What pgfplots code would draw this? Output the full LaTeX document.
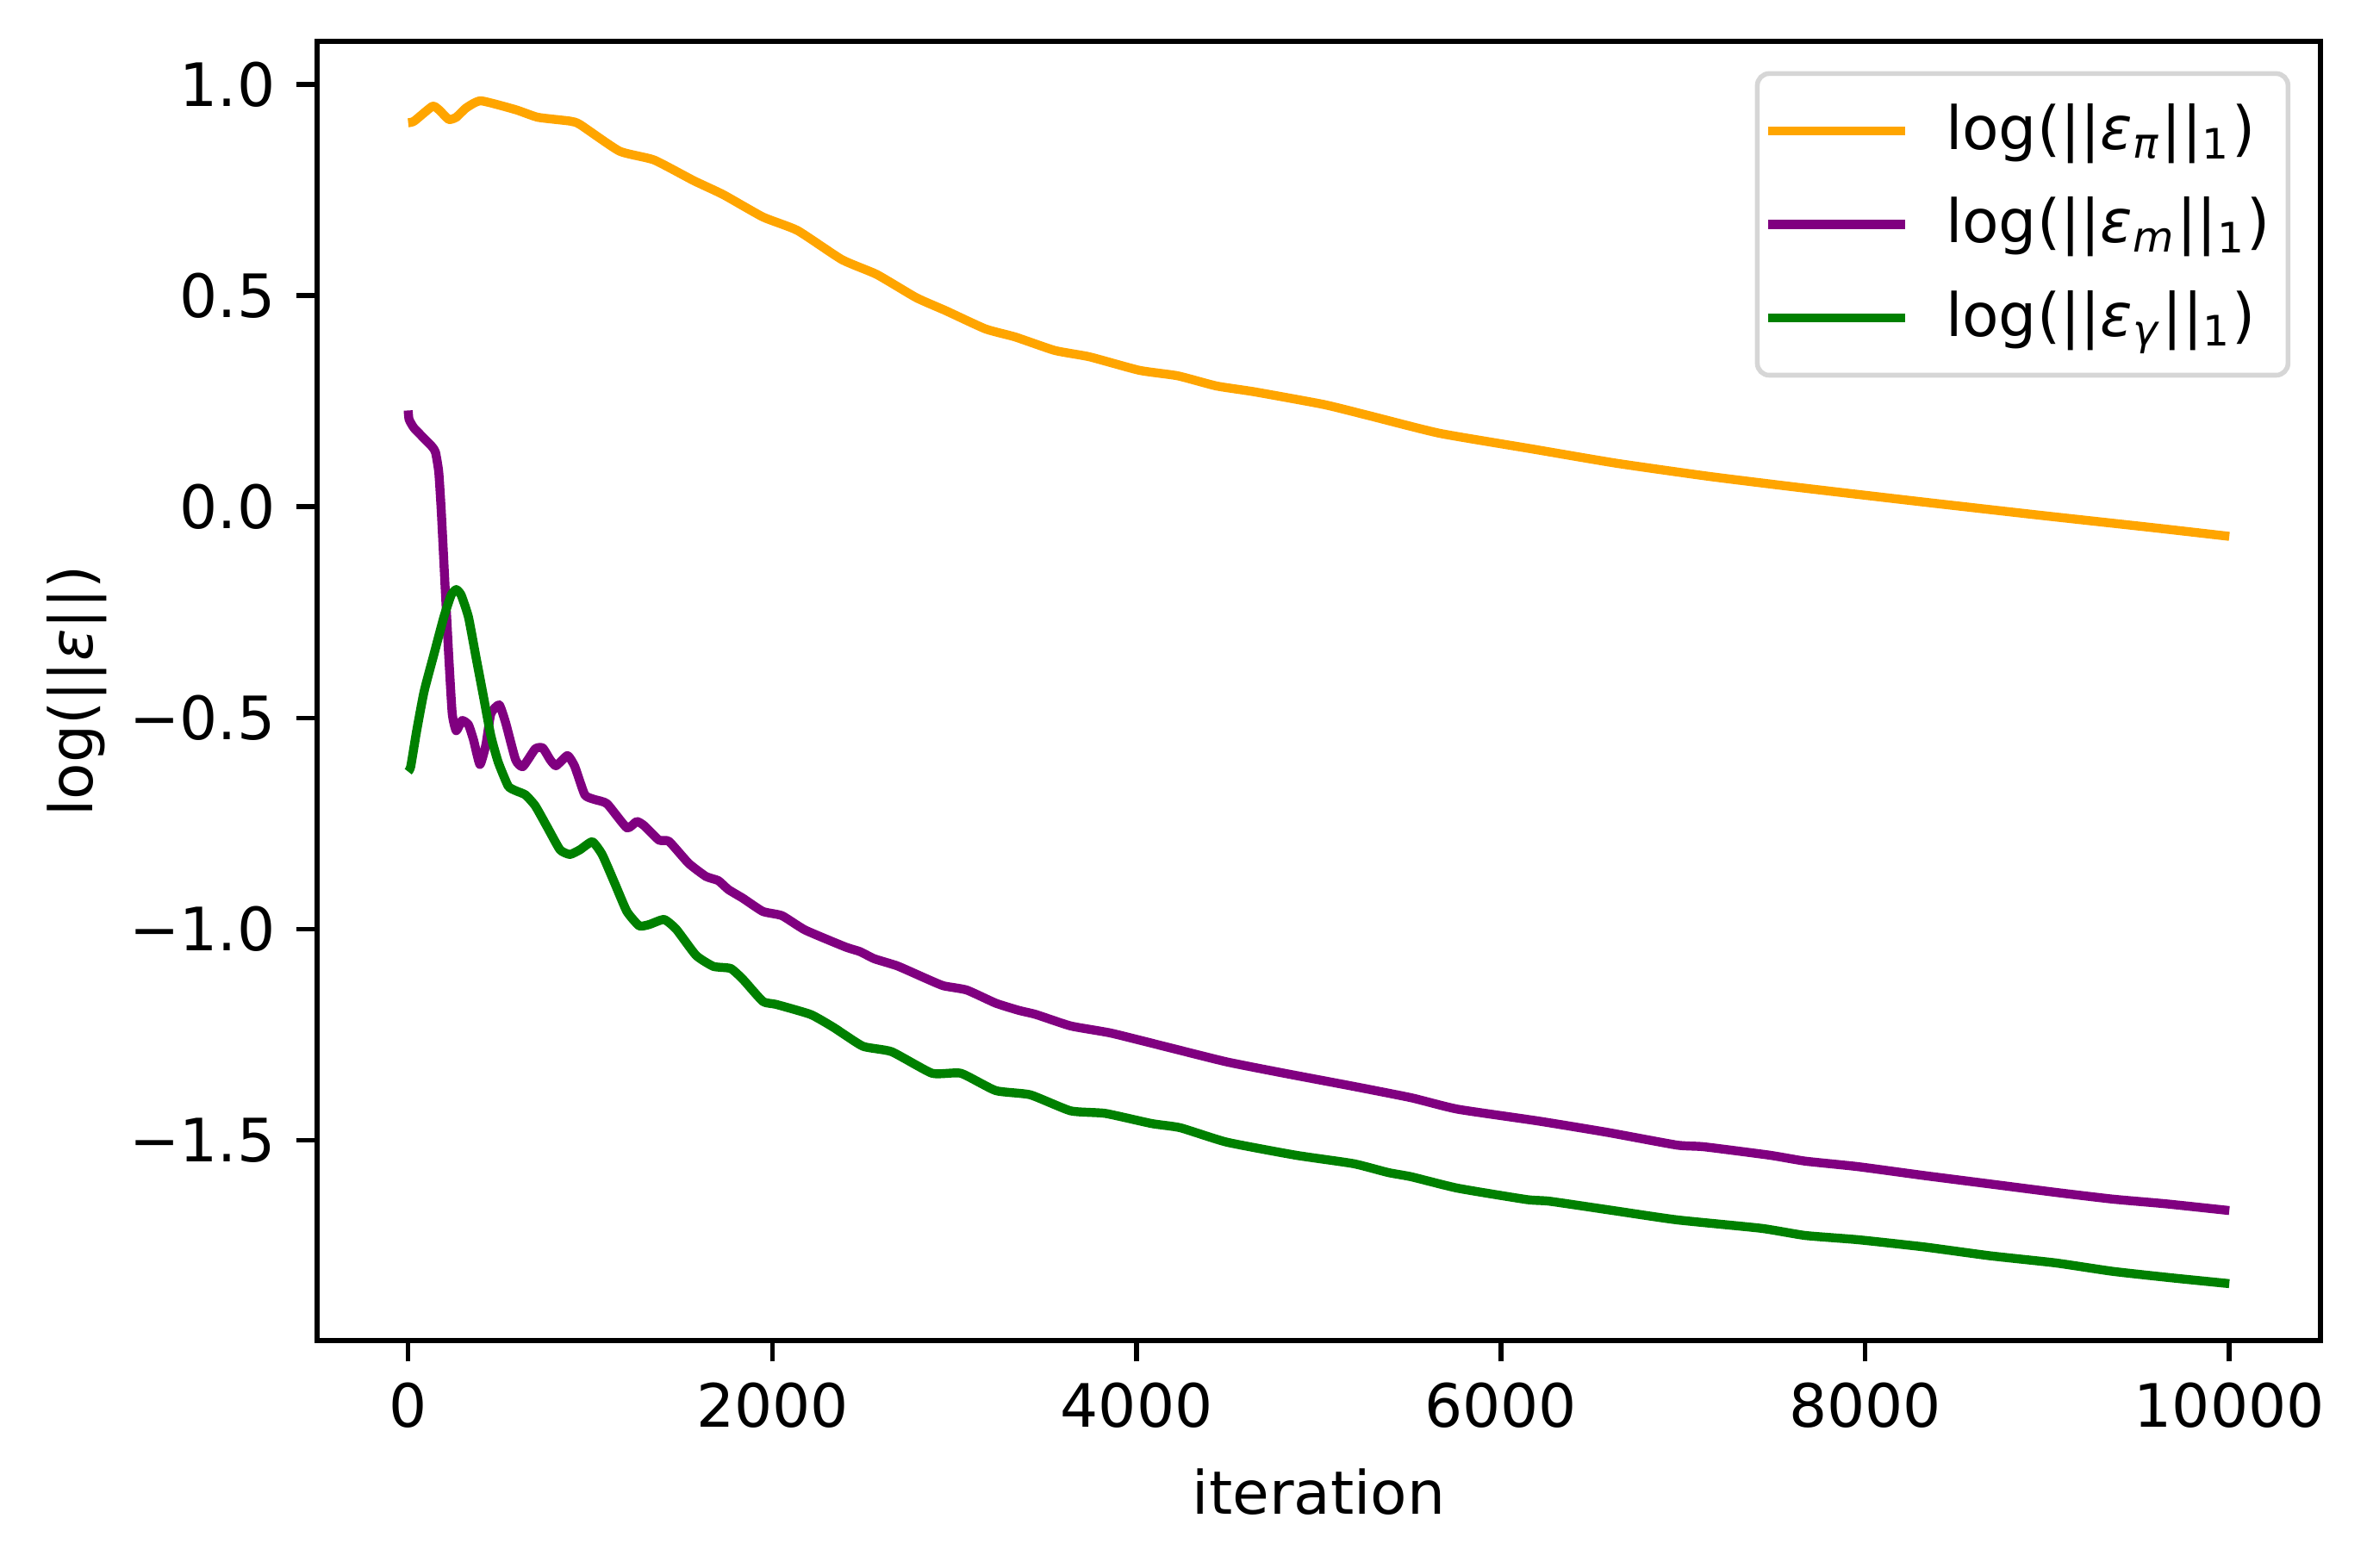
\documentclass[border=0pt]{standalone}
\usepackage{fontspec}
\setmainfont{DejaVu Sans}
\usepackage{pgfplots}
\pgfplotsset{compat=1.18}
\definecolor{cOrange}{HTML}{FFA500}
\definecolor{cPurple}{HTML}{800080}
\definecolor{cGreen}{HTML}{008000}
\definecolor{cFrame}{HTML}{D6D6D6}
\begin{document}
\fontsize{10}{12}\selectfont
\begin{tikzpicture}
\begin{axis}[name=ax,
  width=334.8pt, height=217.2pt, scale only axis,
  xmin=-500, xmax=10500, ymin=-1.974, ymax=1.102,
  axis line style={line width=0.8pt},
  tick style={line width=0.8pt, black},
  major tick length=3.5pt,
  tick align=outside,
  xtick pos=left, ytick pos=left,
  xtick={0,2000,4000,6000,8000,10000},
  xticklabels={0,2000,4000,6000,8000,10000},
  ytick={-1.5,-1,-0.5,0,0.5,1},
  yticklabels={−1.5,−1.0,−0.5,0.0,0.5,1.0},
  scaled x ticks=false,
  tick label style={font=\fontsize{10}{12}\selectfont},
  xlabel={iteration},
  ylabel={log(||\textit{ε}||)},
  label style={font=\fontsize{10}{12}\selectfont},
  ylabel style={yshift=-3pt},
  legend style={at={(1,1)}, anchor=north east, xshift=-5pt, yshift=-5pt,
    draw=cFrame, line width=0.8pt, rounded corners=2pt,
    inner xsep=1pt, inner ysep=3pt, row sep=2.5pt,
    font=\fontsize{10}{12}\selectfont, cells={anchor=west},
    /tikz/every odd column/.append style={column sep=4pt}},
  legend image code/.code={\path (0pt,0pt) -- (1.5pt,0pt);\draw[#1, line width=1.5pt] (1.5pt,0pt) -- (23pt,0pt);},
  every axis plot/.append style={line width=1.5pt, line join=round, smooth, tension=0.3},
]
\addplot[cOrange] coordinates {
(0,0.909) (33,0.913) (133,0.948) (168,0.940) (223,0.917) (264,0.922) (318,0.944)
(399,0.961) (590,0.940) (712,0.922) (888,0.913) (943,0.905) (1160,0.842)
(1350,0.821) (1568,0.772) (1730,0.739) (1948,0.686) (2138,0.654) (2382,0.585)
(2573,0.550) (2790,0.495) (2953,0.464) (3170,0.421) (3333,0.402) (3551,0.370)
(3741,0.355) (4015,0.323) (4226,0.310) (4438,0.286) (4649,0.272) (5029,0.242)
(5283,0.215) (5663,0.174) (6170,0.137) (6635,0.103) (7142,0.072) (7649,0.045)
(8325,0.011) (8959,-0.020) (9593,-0.050) (10000,-0.070)
};
\addlegendentry{log(||\textit{ε}\textsubscript{\textit{π}}||\textsubscript{1})}
\addplot[cPurple] coordinates {
(0,0.228) (5,0.207) (33,0.186) (128,0.144) (150,0.129) (168,0.082) (182,-0.012)
(204,-0.199) (223,-0.355) (242,-0.490) (264,-0.530) (296,-0.506) (331,-0.516)
(359,-0.552) (394,-0.610) (427,-0.563) (454,-0.490) (500,-0.469) (535,-0.511)
(590,-0.599) (630,-0.615) (698,-0.573) (739,-0.571) (780,-0.599) (812,-0.613)
(875,-0.589) (915,-0.615) (970,-0.682) (1024,-0.693) (1092,-0.703) (1201,-0.760)
(1255,-0.745) (1296,-0.755) (1377,-0.789) (1432,-0.792) (1540,-0.844) (1635,-0.875)
(1703,-0.885) (1758,-0.906) (1839,-0.927) (1948,-0.958) (2053,-0.968) (2180,-1.002)
(2401,-1.042) (2481,-1.053) (2560,-1.070) (2687,-1.087) (2845,-1.117) (2940,-1.134)
(3067,-1.144) (3226,-1.175) (3352,-1.192) (3448,-1.202) (3638,-1.229) (3860,-1.246)
(4177,-1.280) (4494,-1.314) (4811,-1.341) (5191,-1.372) (5508,-1.399) (5762,-1.426)
(6205,-1.454) (6586,-1.481) (6966,-1.511) (7115,-1.515) (7477,-1.535) (7671,-1.549)
(7960,-1.562) (8322,-1.583) (8685,-1.603) (9047,-1.623) (9361,-1.639) (9650,-1.650)
(10000,-1.666)
};
\addlegendentry{log(||\textit{ε}\textsubscript{\textit{m}}||\textsubscript{1})}
\addplot[cGreen] coordinates {
(0,-0.627) (14,-0.615) (46,-0.532) (87,-0.438) (141,-0.350) (196,-0.261) (236,-0.209)
(264,-0.196) (291,-0.209) (331,-0.261) (372,-0.355) (413,-0.448) (454,-0.542)
(494,-0.604) (549,-0.661) (590,-0.672) (644,-0.682) (698,-0.708) (766,-0.760)
(834,-0.812) (888,-0.823) (943,-0.812) (1011,-0.793) (1065,-0.823) (1133,-0.890)
(1201,-0.958) (1269,-0.992) (1323,-0.989) (1405,-0.977) (1472,-1.000) (1581,-1.062)
(1676,-1.088) (1771,-1.093) (1839,-1.119) (1948,-1.171) (2021,-1.178) (2211,-1.202)
(2338,-1.233) (2497,-1.277) (2655,-1.290) (2877,-1.341) (3035,-1.341) (3226,-1.382)
(3416,-1.392) (3638,-1.430) (3828,-1.436) (4082,-1.460) (4240,-1.470) (4494,-1.504)
(4874,-1.535) (5191,-1.555) (5381,-1.576) (5508,-1.586) (5762,-1.613) (6142,-1.640)
(6269,-1.644) (6617,-1.666) (6966,-1.688) (7429,-1.708) (7671,-1.725) (7960,-1.735)
(8322,-1.752) (8685,-1.773) (9047,-1.790) (9361,-1.810) (9699,-1.826) (10000,-1.839)
};
\addlegendentry{log(||\textit{ε}\textsubscript{\textit{γ}}||\textsubscript{1})}
\end{axis}
\pgfresetboundingbox
\path[use as bounding box] ([shift={(-53pt,-37.9pt)}]ax.south west) rectangle ([shift={(7.8pt,6.9pt)}]ax.north east);
\end{tikzpicture}
\end{document}
